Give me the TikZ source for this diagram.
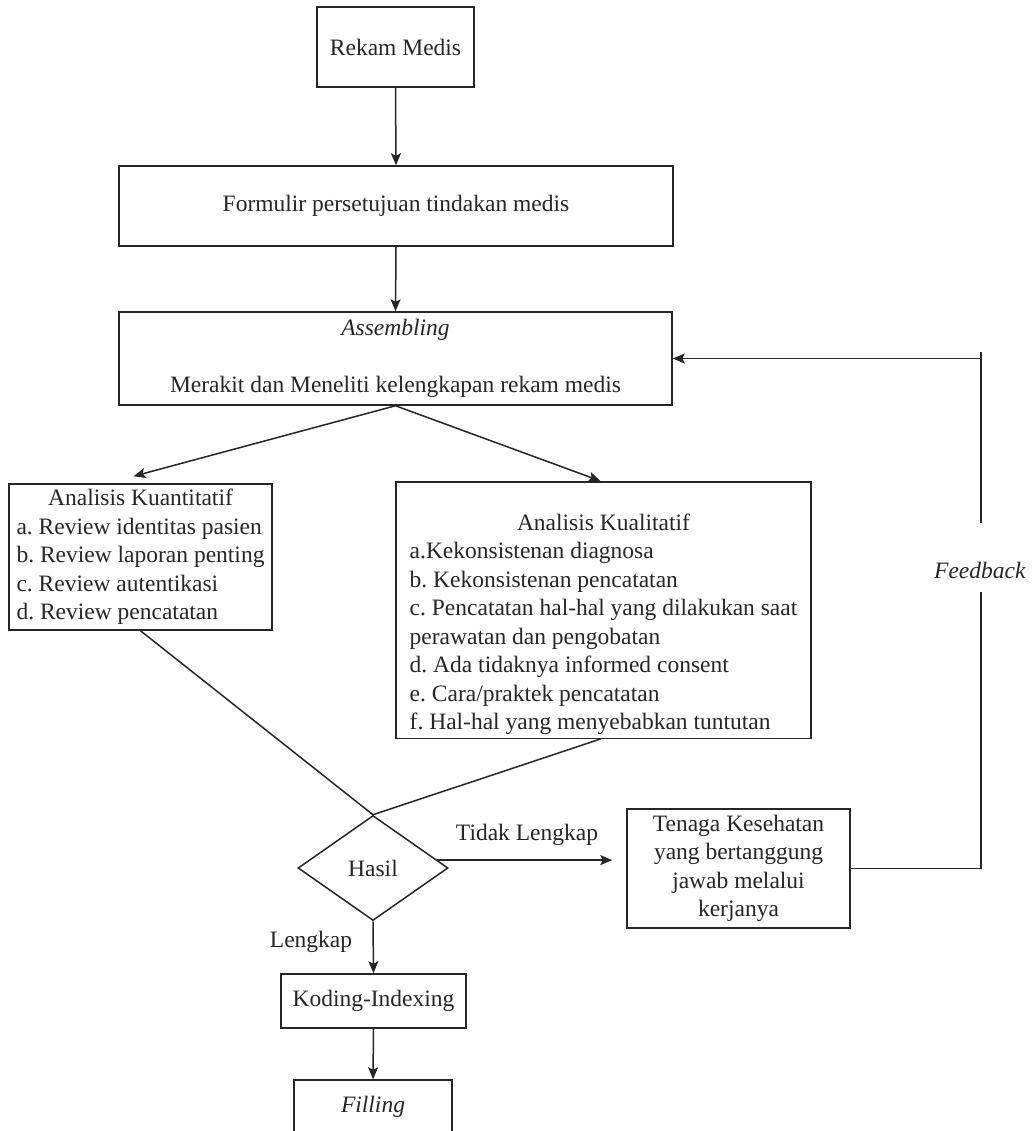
\documentclass[tikz,border=0pt]{standalone}
\usepackage{fontspec}
\setmainfont{Liberation Serif}
\usetikzlibrary{shapes.geometric,arrows.meta,calc}
\frenchspacing
\begin{document}
\begin{tikzpicture}[x=1pt,y=-1pt,
  every node/.style={font=\fontsize{23.5}{28.5}\selectfont\frenchspacing, text=black!85},
  box/.style={draw=black!85, line width=1.5pt, inner sep=0pt, align=center},
  conn/.style={draw=black!85, line width=1.5pt},
  arr/.style={conn, -{Stealth[length=12pt,width=10pt,inset=2.5pt]}},
  lbl/.style={inner sep=0pt}]
\clip (0,0) rectangle (1032,1131);
\fill[white] (0,0) rectangle (1032,1131);

\node[box, minimum width=157, minimum height=80] (rekam) at (395.5,47) {Rekam Medis};
\node[box, minimum width=554, minimum height=80] (formulir) at (396,206) {Formulir persetujuan tindakan medis};
\node[box, minimum width=553, minimum height=93] (assembling) at (395.5,358.5)
  {\textit{Assembling}\\[28.5pt]Merakit dan Meneliti kelengkapan rekam medis};

\node[box, minimum width=263, minimum height=146] (kuant) at (140.5,557)
  {\begin{tabular}{@{}l@{}}
   \multicolumn{1}{@{}c@{}}{Analisis Kuantitatif}\\
   a. Review identitas pasien\\
   b. Review laporan penting\\
   c. Review autentikasi\\
   d. Review pencatatan
   \end{tabular}};

\node[box, minimum width=415, minimum height=252] (kual) at (603.5,610)
  {\begin{tabular}{@{}l@{}}
   \\
   \multicolumn{1}{@{}c@{}}{Analisis Kualitatif}\\
   a.Kekonsistenan diagnosa\\
   b. Kekonsistenan pencatatan\\
   c. Pencatatan hal-hal yang dilakukan saat\\
   perawatan dan pengobatan\\
   d. Ada tidaknya informed consent\\
   e. Cara/praktek pencatatan\\
   f. Hal-hal yang menyebabkan tuntutan
   \end{tabular}};

\node[draw=black!85, line width=1.5pt, shape=diamond, inner sep=0pt,
      minimum width=150, minimum height=105] (hasil) at (373,868) {Hasil};

\node[box, minimum width=223, minimum height=119] (tenaga) at (738.5,868.5)
  {Tenaga Kesehatan\\yang bertanggung\\jawab melalui\\kerjanya};

\node[box, minimum width=185, minimum height=54] (koding) at (373.5,1001) {Koding-Indexing};
\node[box, minimum width=158, minimum height=54] (filling) at (373,1107) {\textit{Filling}};

\node[lbl] (tidak) at (527,835) {Tidak Lengkap};
\node[lbl] (lengkap) at (311,942) {Lengkap};
\node[lbl] (feedback) at (980,570) {\textit{Feedback}};

\coordinate (fbbot) at (981,592);
\coordinate (fbtop) at (981,523);
\coordinate (fbend) at (981,352);

% connectors
\draw[arr] (rekam.south) -- (formulir.north);
\draw[arr] (formulir.south) -- (assembling.north);
\draw[arr] (assembling.south) -- ($(kuant.north)+(-7,-7)$);
\draw[arr] (assembling.south) -- ($(kual.north)+(-3,0)$);
\draw[conn] (kuant.south) -- (hasil.north);
\draw[conn] ($(kual.south)+(-3,0)$) -- (hasil.north);
\draw[arr, shorten >=14pt] (hasil.7) -- (hasil.7 -| tenaga.west);
\draw[arr] (hasil.south) -- (koding.north);
\draw[arr] (koding.south) -- (filling.north);
\draw[conn] (tenaga.east) -- (tenaga.east -| fbbot) -- (fbbot);
\draw[conn] (fbtop) -- (fbend);
\draw[arr] (assembling.east -| fbend) -- (assembling.east);
\end{tikzpicture}
\end{document}
